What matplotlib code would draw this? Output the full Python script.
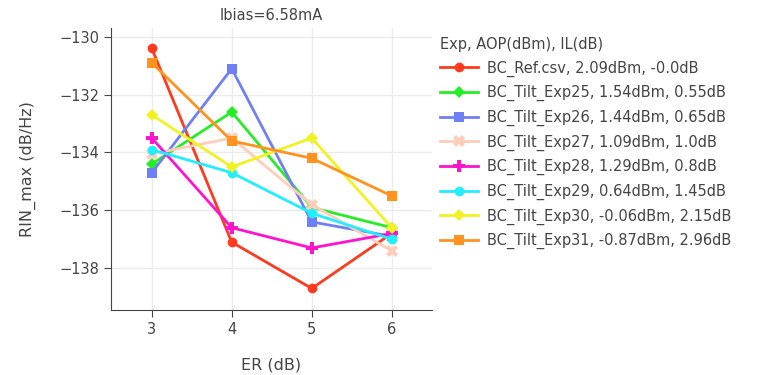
import matplotlib.pyplot as plt

plt.rcParams['font.family'] = ['DejaVu Sans']

er = [3, 4, 5, 6]

series_names = [
    'BC_Ref.csv, 2.09dBm, -0.0dB',
    'BC_Tilt_Exp25, 1.54dBm, 0.55dB',
    'BC_Tilt_Exp26, 1.44dBm, 0.65dB',
    'BC_Tilt_Exp27, 1.09dBm, 1.0dB',
    'BC_Tilt_Exp28, 1.29dBm, 0.8dB',
    'BC_Tilt_Exp29, 0.64dBm, 1.45dB',
    'BC_Tilt_Exp30, -0.06dBm, 2.15dB',
    'BC_Tilt_Exp31, -0.87dBm, 2.96dB',
]

ref = [-130.4, -137.1, -138.7, -136.8]
exp25 = [-134.4, -132.6, -135.9, -136.6]
exp26 = [-134.7, -131.1, -136.4, -136.9]
exp27 = [-134.05, -133.5, -135.8, -137.4]
exp28 = [-133.5, -136.6, -137.3, -136.8]
exp29 = [-133.9, -134.7, -136.1, -137.0]
exp30 = [-132.7, -134.5, -133.5, -136.6]
exp31 = [-130.9, -133.6, -134.2, -135.5]

all_rin = [ref, exp25, exp26, exp27, exp28, exp29, exp30, exp31]

colors = ['#ff3a1e', '#26ee26', '#6f7ff6', '#ffcdb9',
          '#ff14cc', '#22eeff', '#f2f222', '#ff931e']
markers = ['o', 'D', 's', 'X', 'P', 'o', 'D', 's']
msizes = [7, 6, 7, 8, 8, 7, 6, 7]

fig = plt.figure(figsize=(7.6, 3.75), dpi=100)
ax = fig.add_axes([0.146, 0.173, 0.422, 0.752])

for name, vals, c, m, ms in zip(series_names, all_rin, colors, markers, msizes):
    ax.plot(er, vals, color=c, marker=m, markersize=ms, linewidth=2,
            markeredgewidth=0, label=name)

ax.set_xlim(2.49, 6.5)
ax.set_ylim(-139.45, -129.7)
ax.set_xticks([3, 4, 5, 6])
ax.set_yticks([-130, -132, -134, -136, -138])
ax.grid(True, color='#ebebeb', linewidth=1)
ax.set_axisbelow(True)
for s in ['top', 'right']:
    ax.spines[s].set_visible(False)
for s in ['left', 'bottom']:
    ax.spines[s].set_color('#444444')
ax.tick_params(colors='#444444', labelsize=10.5, length=5, direction='out')
ax.set_xlabel('ER (dB)', fontsize=11.5, color='#444444', labelpad=15)
ax.set_ylabel('RIN_max (dB/Hz)', fontsize=11.5, color='#444444', labelpad=17)
ax.set_title('Ibias=6.58mA', fontsize=10.5, color='#444444', pad=6)

leg = ax.legend(title='Exp, AOP(dBm), IL(dB)', loc='upper left',
                bbox_to_anchor=(1.0, 1.0), frameon=False, fontsize=10.5,
                title_fontsize=10.5, alignment='left', handlelength=2.6,
                labelspacing=0.58, borderaxespad=0.2, handletextpad=0.6)
for t in leg.get_texts():
    t.set_color('#444444')
leg.get_title().set_color('#444444')

plt.savefig('out.png', dpi=100)
